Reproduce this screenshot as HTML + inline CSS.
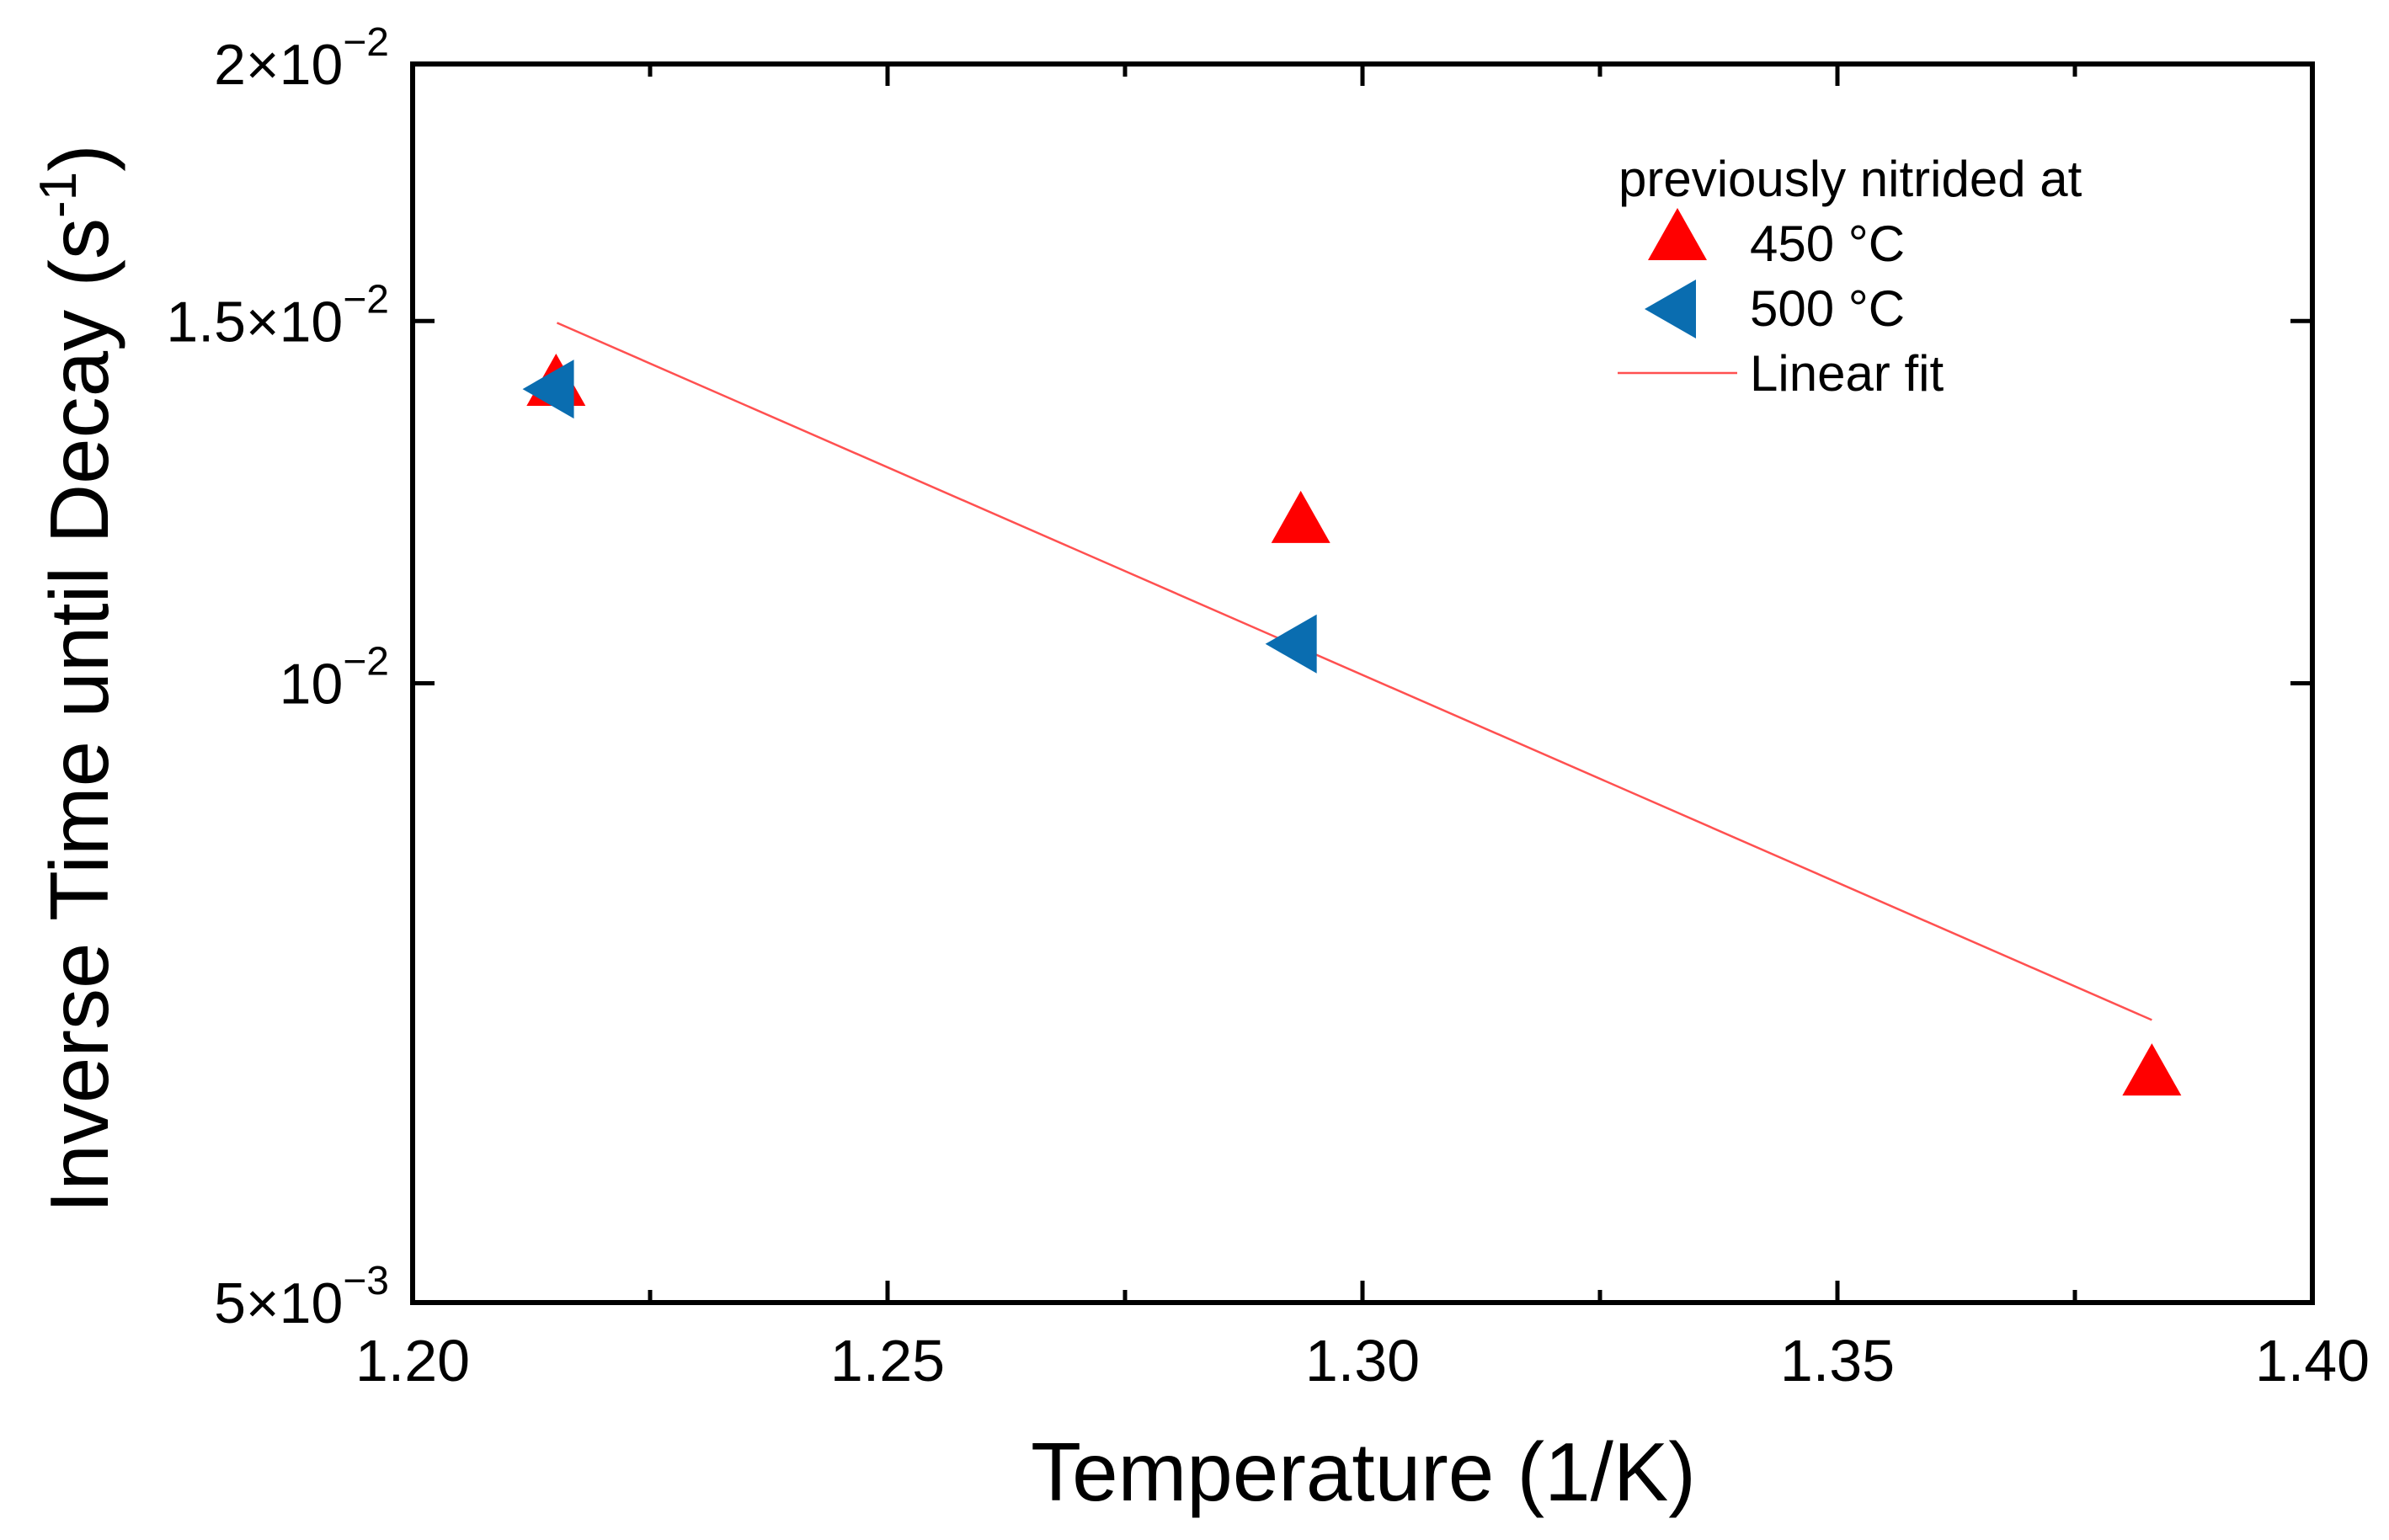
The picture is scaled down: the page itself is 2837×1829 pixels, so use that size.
<!DOCTYPE html>
<html><head><meta charset="utf-8"><style>
html,body{margin:0;padding:0;background:#fff}
svg{display:block;font-family:"Liberation Sans",Arial,sans-serif}
</style></head><body>
<svg id="chart" width="2837" height="1829" viewBox="0 0 2837 1829">
<g id="axes"></g><g id="marks"></g><g id="legend"></g>
</svg>
<script>
const xTicks=[1.20,1.25,1.30,1.35,1.40];
const xTickLabels=["1.20","1.25","1.30","1.35","1.40"];
const xMinor=[1.225,1.275,1.325,1.375];
const yTicks=[0.005,0.01,0.015,0.02];
const yTickMant=["5×10","","1.5×10","2×10"];
const yTickExp=["−3","−2","−2","−2"];
const x450=[1.2151,1.2935,1.3831];
const y450=[0.01398,0.01199,0.00646];
const x500=[1.2145,1.2927];
const y500=[0.0139,0.01045];
const fitX=[1.2152,1.3831];
const fitY=[0.01497,0.00686];

const L=490,R=2746,T=76,B=1547;
const X0=1.2,X1=1.4,Y0=0.005,Y1=0.02;
const sx=v=>L+(v-X0)/(X1-X0)*(R-L);
const sy=v=>B-(Math.log10(v)-Math.log10(Y0))/(Math.log10(Y1)-Math.log10(Y0))*(B-T);
const NS="http://www.w3.org/2000/svg";
function mk(parent,tag,attrs){const e=document.createElementNS(NS,tag);for(const k in attrs)e.setAttribute(k,attrs[k]);parent.appendChild(e);return e;}
const axes=document.getElementById('axes'),marks=document.getElementById('marks'),leg=document.getElementById('legend');

let frame=mk(axes,'rect',{x:L,y:T,width:R-L,height:B-T,fill:'none',stroke:'#000','stroke-width':6});



xTicks.forEach((v,i)=>{
  const x=sx(v);
  let t=mk(axes,'line',{x1:x,x2:x,y1:B,y2:B-26,stroke:'#000','stroke-width':5});
  
  
  let t2=mk(axes,'line',{x1:x,x2:x,y1:T,y2:T+26,stroke:'#000','stroke-width':5});
  
  
  let lb=mk(axes,'text',{x:x,y:1640,'font-size':70,'text-anchor':'middle'});
  lb.textContent=xTickLabels[i];
  
  
});
xMinor.forEach(v=>{
  const x=sx(v);
  let t=mk(axes,'line',{x1:x,x2:x,y1:B,y2:B-15,stroke:'#000','stroke-width':5});
  
  
  let t2=mk(axes,'line',{x1:x,x2:x,y1:T,y2:T+15,stroke:'#000','stroke-width':5});
  
  
});
yTicks.forEach((v,i)=>{
  const y=sy(v);
  let t=mk(axes,'line',{x1:L,x2:L+26,y1:y,y2:y,stroke:'#000','stroke-width':5});
  
  
  let t2=mk(axes,'line',{x1:R,x2:R-26,y1:y,y2:y,stroke:'#000','stroke-width':5});
  
  
  let lb=mk(axes,'text',{x:462,y:y+24,'font-size':68,'text-anchor':'end'});
  
  
  const m=document.createElementNS(NS,'tspan');m.textContent=yTickMant[i]+(yTickMant[i]?'':'10');lb.appendChild(m);
  const ex=document.createElementNS(NS,'tspan');ex.setAttribute('dy',-34);ex.setAttribute('font-size',48);ex.textContent=yTickExp[i];lb.appendChild(ex);
});

let xt=mk(axes,'text',{x:1619,y:1782,'font-size':98,'text-anchor':'middle'});
xt.textContent='Temperature (1/K)';


let yt=mk(axes,'text',{x:0,y:0,'font-size':98,'text-anchor':'middle',transform:'translate(128,806) rotate(-90)'});


yt.innerHTML='Inverse Time until Decay (s<tspan dy="-38" font-size="62">-1</tspan><tspan dy="38">)</tspan>';

let fit=mk(marks,'line',{x1:sx(fitX[0]),y1:sy(fitY[0]),x2:sx(fitX[1]),y2:sy(fitY[1]),stroke:'#ff5050','stroke-width':2.5});



function upTri(cx,cy){return `${cx},${cy-36} ${cx+35},${cy+26} ${cx-35},${cy+26}`;}
function leftTri(cx,cy){return `${cx-33},${cy} ${cx+28},${cy-35} ${cx+28},${cy+35}`;}
x450.forEach((v,i)=>{
  let p=mk(marks,'polygon',{points:upTri(sx(v),sy(y450[i])),fill:'#ff0000'});
  
  
});
x500.forEach((v,i)=>{
  let p=mk(marks,'polygon',{points:leftTri(sx(v),sy(y500[i])),fill:'#0a6db0'});
  
  
});

let lt=mk(leg,'text',{x:1922,y:233,'font-size':60});
lt.textContent='previously nitrided at';


let l1=mk(leg,'polygon',{points:upTri(1992,283),fill:'#ff0000'});


let l1t=mk(leg,'text',{x:2078,y:310,'font-size':60});
l1t.textContent='450 °C';


let l2=mk(leg,'polygon',{points:leftTri(1986,367),fill:'#0a6db0'});


let l2t=mk(leg,'text',{x:2078,y:387,'font-size':60});
l2t.textContent='500 °C';


let l3=mk(leg,'line',{x1:1921,x2:2063,y1:443,y2:443,stroke:'#ff5050','stroke-width':2.5});


let l3t=mk(leg,'text',{x:2078,y:464,'font-size':60});
l3t.textContent='Linear fit';


</script>
</body></html>
